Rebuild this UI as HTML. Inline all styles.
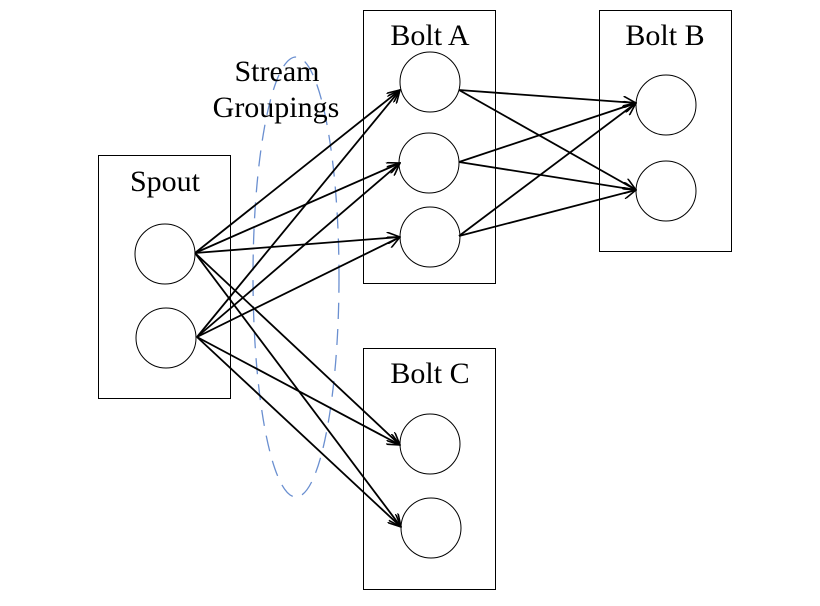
<!DOCTYPE html>
<html><head><style>body{margin:0;background:#fff}</style></head><body>
<svg width="820" height="601" xmlns="http://www.w3.org/2000/svg">
<defs><marker id="a" markerWidth="14" markerHeight="12" refX="13" refY="6" orient="auto" markerUnits="userSpaceOnUse"><path d="M0,0 L13,6 L0,12" fill="none" stroke="#000" stroke-width="1.6"/></marker></defs>
<ellipse cx="296" cy="277" rx="43" ry="220" fill="none" stroke="#6a8fd0" stroke-width="1.3" stroke-dasharray="16,10"/>
<g fill="none" stroke="#000" stroke-width="1">
<rect x="98.5" y="155.5" width="132" height="243"/>
<rect x="363.5" y="10.5" width="132" height="273"/>
<rect x="599.5" y="10.5" width="132" height="241"/>
<rect x="363.5" y="348.5" width="132" height="241"/>
<circle cx="165" cy="254" r="30"/><circle cx="166" cy="338" r="30"/>
<circle cx="430" cy="82" r="30"/><circle cx="429" cy="163" r="30"/><circle cx="430" cy="237" r="30"/>
<circle cx="666" cy="105" r="30"/><circle cx="666" cy="191" r="30"/>
<circle cx="430" cy="444" r="30"/><circle cx="431" cy="528" r="30"/>
</g>
<g stroke="#000" stroke-width="1.8" marker-end="url(#a)">
<line x1="195" y1="253" x2="400" y2="90"/><line x1="195" y1="253" x2="400" y2="163"/><line x1="195" y1="253" x2="400" y2="237"/>
<line x1="195" y1="253" x2="400" y2="445"/><line x1="195" y1="253" x2="401" y2="527"/>
<line x1="197" y1="337" x2="400" y2="90"/><line x1="197" y1="337" x2="400" y2="163"/><line x1="197" y1="337" x2="400" y2="237"/>
<line x1="197" y1="337" x2="400" y2="445"/><line x1="197" y1="337" x2="401" y2="527"/>
<line x1="459" y1="90" x2="636" y2="103"/><line x1="459" y1="90" x2="636" y2="190"/>
<line x1="459" y1="162" x2="636" y2="103"/><line x1="459" y1="162" x2="636" y2="190"/>
<line x1="459" y1="236" x2="636" y2="103"/><line x1="459" y1="236" x2="636" y2="190"/>
</g>
<g font-family="Liberation Serif, serif" font-size="30" text-anchor="middle" fill="#000">
<text x="165" y="191">Spout</text><text x="430" y="45">Bolt A</text><text x="665" y="45">Bolt B</text><text x="430" y="383">Bolt C</text>
<text x="277" y="81">Stream</text><text x="276" y="117">Groupings</text>
</g>
</svg>
</body></html>
